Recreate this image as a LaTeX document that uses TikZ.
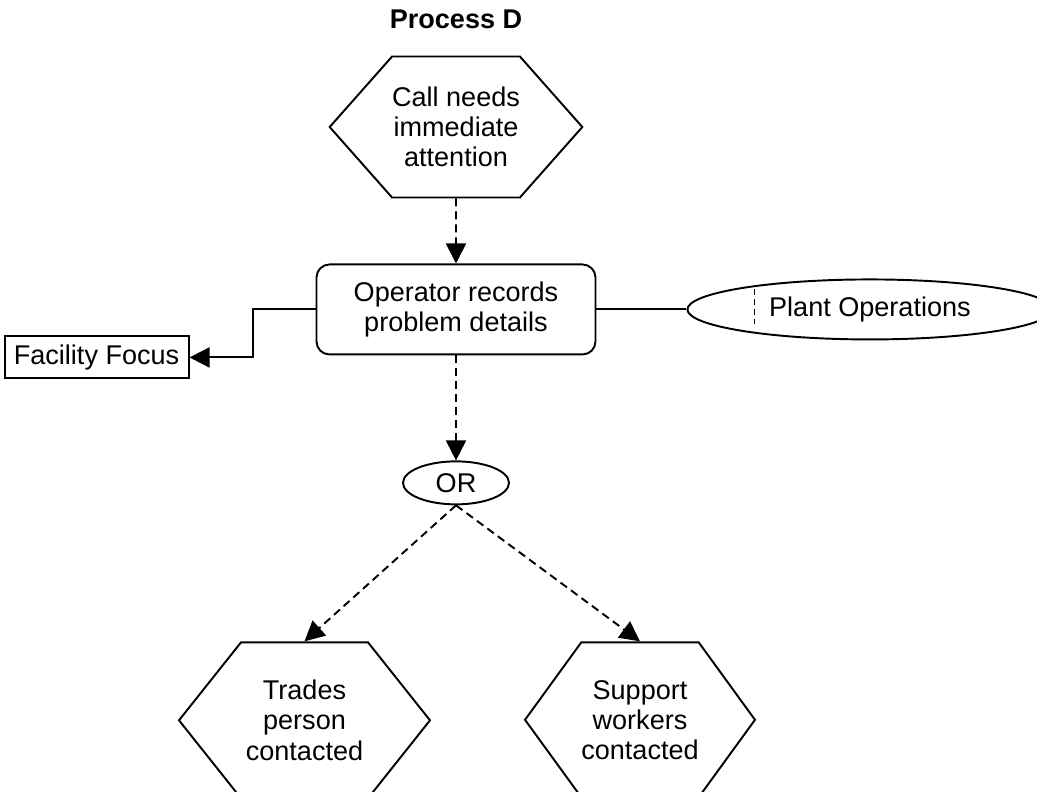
\documentclass[tikz,border=0pt]{standalone}
\usepackage{fontspec}
\setmainfont{Liberation Sans}
\usetikzlibrary{arrows.meta, shapes.geometric, shapes.symbols, positioning}

\tikzset{
	every node/.style={font=\fontsize{15.4pt}{17.1pt}\selectfont},
	hexstep/.style={draw, signal, signal to=east and west, signal pointer angle=97,
		align=center, minimum width=50.2mm, minimum height=28.2mm, inner sep=0pt},
	procbox/.style={draw, rounded corners=2.6mm, align=center,
		minimum width=55.8mm, minimum height=18mm},
	outbox/.style={draw, minimum width=36.8mm, minimum height=8.4mm, inner sep=0pt},
	laneoval/.style={draw, ellipse, minimum width=73mm, minimum height=12mm},
	gateoval/.style={draw, ellipse, minimum width=21.2mm, minimum height=8.6mm, inner sep=0pt},
	flow/.style={dash pattern=on 1.6mm off 1mm, -{Triangle[length=4mm, width=4mm]}},
	link/.style={-{Triangle[length=4mm, width=4mm]}},
}

\begin{document}
\begin{tikzpicture}[line width=1.1pt]
		\useasboundingbox (0,0) rectangle (207.4mm,-158.4mm);

		\node [hexstep] (call) at (91.2mm,-25.4mm) {Call needs\\immediate\\attention};
		\node [above=5.2mm of call, inner sep=0pt, font=\fontsize{15.4pt}{17.1pt}\selectfont\bfseries] (title) {Process D};
		\node [procbox, below=13mm of call] (operator) {Operator records\\problem details};
		\node [outbox, left=25.2mm of operator, yshift=-9.6mm] (facility) {Facility Focus};
		\node [laneoval, right=18mm of operator] (plant) {Plant Operations};
		\node [gateoval, below=21mm of operator] (gate) {OR};
		\node [hexstep, signal pointer angle=103, minimum height=31.2mm,
			below=27.2mm of gate, xshift=-30.3mm] (trades) {Trades\\person\\contacted};
		\node [hexstep, signal pointer angle=108, minimum width=45.2mm, minimum height=31mm,
			below=27.2mm of gate, xshift=36.8mm] (support) {Support\\workers\\contacted};

		% lane marker
		\draw [line width=1pt, dash pattern=on 1.2mm off 0.8mm] ([shift={(13.6mm,4mm)}]plant.west) -- ++(0,-7mm);

		\draw [flow] (call) -- (operator);
		\draw [flow] (operator) -- (gate);
		\draw [flow] (gate.south) -- (trades.north);
		\draw [flow] (gate.south) -- (support.north);
		\draw [link] (operator.west) -- ++(-12.6mm,0) |- (facility.east);
		\draw (operator.east) -- (plant.west);
\end{tikzpicture}
\end{document}
